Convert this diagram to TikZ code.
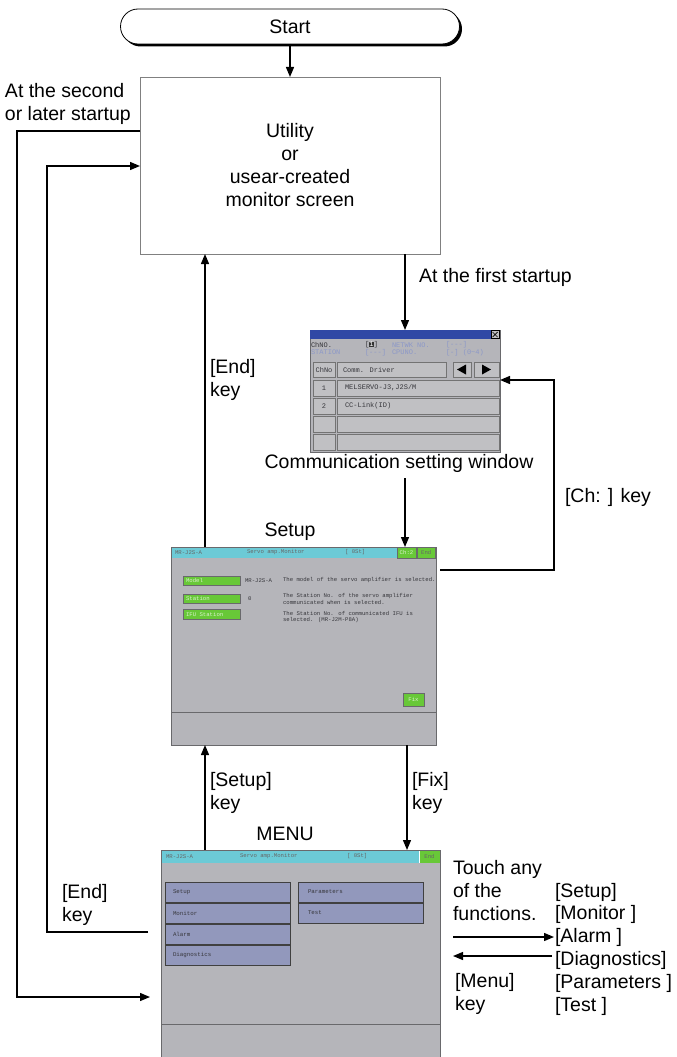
\documentclass[tikz,border=0pt]{standalone}
\usepackage{fontspec}
\setmainfont{Liberation Sans}
\newfontfamily\scrfont{Liberation Mono}
\usetikzlibrary{arrows.meta,shadows}

\definecolor{scrgray}{RGB}{181,181,186}
\definecolor{cellgray}{RGB}{192,192,195}
\definecolor{titlecyan}{RGB}{108,202,214}
\definecolor{btngreen}{RGB}{104,200,56}
\definecolor{btnlav}{RGB}{146,152,188}
\definecolor{barblue}{RGB}{48,72,165}
\definecolor{scrtext}{RGB}{55,55,60}
\definecolor{fadetext}{RGB}{140,152,200}
\definecolor{edgegray}{RGB}{105,105,108}

\begin{document}
\begin{tikzpicture}[x=1pt,y=-1pt,
  every node/.style={inner sep=0pt, outer sep=0pt},
  lbl/.style={font=\fontsize{19.5}{23}\selectfont, align=left},
  arr/.style={line width=1.3pt, -{Triangle[length=10pt,width=8pt]}},
  conn/.style={line width=1.3pt},
  screen/.style={draw=edgegray, fill=scrgray, line width=0.8pt},
  tiny/.style={font=\scrfont\fontsize{5.65}{6}\selectfont, text=scrtext, anchor=west},
  ctext/.style={font=\scrfont\fontsize{7}{8}\selectfont, text=scrtext, anchor=west},
  cfade/.style={font=\scrfont\fontsize{7}{8}\selectfont, text=fadetext, anchor=west},
  gbtn/.style={draw=edgegray, fill=btngreen, line width=0.6pt},
  lbtn/.style={draw=black!75, fill=btnlav, line width=0.6pt},
  cell/.style={draw=black!55, fill=cellgray, line width=0.6pt},
]
\useasboundingbox (0,0) rectangle (677,1057);

% ---------- Start ----------
\node[draw, fill=white, rounded corners=17.5pt, minimum width=339pt, minimum height=35pt,
      line width=0.8pt, drop shadow={shadow xshift=2.5pt, shadow yshift=-2.5pt, fill=black, opacity=1},
      font=\fontsize{19.5}{23}\selectfont] (start) at (290,26.5) {Start};

% ---------- Utility ----------
\node[draw=gray, line width=0.8pt, minimum width=300pt, minimum height=177pt,
      lbl, align=center] (util) at (290,165.5) {Utility\\or\\usear-created\\monitor screen};
\draw[arr] (start) -- (util);

\node[lbl, anchor=west] (second) at (5,103.5) {At the second\\or later startup};

% ---------- Communication setting window ----------
\node[screen, minimum width=190pt, minimum height=122pt] (comm) at (405,391) {};
\draw[arr] (util.south -| comm.north) -- (comm.north);
\node[lbl, anchor=west] (first) at (419,277) {At the first startup};

\fill[barblue] (310,330) rectangle (500,339);
\draw[fill=cellgray, line width=0.5pt] (491,330.5) rectangle (499,338.5);
\draw[line width=0.7pt] (492.5,332) -- (497.5,337) (497.5,332) -- (492.5,337);
\node[ctext] at (311,345) {ChNO.};
\node[ctext] at (365,345) {[\fboxsep=0.2pt\colorbox{black!80}{\textcolor{white}{1}}]};
\node[cfade] at (392,345) {NETWK NO.};
\node[cfade] at (446,345) {[---]};
\node[cfade] at (311,352.5) {STATION};
\node[cfade] at (365,352.5) {[---]};
\node[cfade] at (392,352.5) {CPUNO.};
\node[cfade] at (446,352.5) {[-] (0\textasciitilde 4)};

\draw[cell] (313,362) rectangle (335,377);
\node[ctext, anchor=center] at (324,369.5) {ChNo};
\draw[cell] (337,362) rectangle (446,377);
\node[ctext] at (343,369.5) {Comm. Driver};
\draw[cell] (453,362) rectangle (471,377);
\fill (457,369.5) -- (466,364.5) -- (466,374.5) -- cycle;
\draw[cell] (474,362) rectangle (499,377);
\fill (491,369.5) -- (482,364.5) -- (482,374.5) -- cycle;
\foreach \ya/\yb/\n/\t in {380/396/1/{MELSERVO-J3,J2S/M}, 398/414/2/{CC-Link(ID)}, 416/432//{}, 434/450//{}}{
  \draw[cell] (313,\ya) rectangle (335,\yb);
  \draw[cell] (337,\ya) rectangle (499,\yb);
  \node[ctext, anchor=center] at (324,{(\ya+\yb)/2}) {\n};
  \node[ctext] at (345,{(\ya+\yb)/2}) {\t};
}
\node[lbl] (commlbl) at (399,463) {Communication setting window};

% ---------- Setup screen ----------
\node[screen, minimum width=265pt, minimum height=198pt] (setup) at (303.5,646) {};
\node[lbl] (setuplbl) at (290,532) {Setup};
\coordinate (c2) at ([yshift=-6pt]commlbl.south);
\draw[arr] (c2 -| comm.south) -- (setup.north -| comm.south);

\fill[titlecyan] (171,547) rectangle (436,558);
\draw[gbtn] (397,547.5) rectangle (416,558);
\draw[gbtn] (417,547.5) rectangle (435.5,558);
\node[tiny, text=black!60] at (175,552.5) {MR-J2S-A};
\node[tiny, text=black!60] at (247,552.5) {Servo amp.Monitor};
\node[tiny, text=black!60] at (345,552.5) {[ 0St]};
\node[tiny, anchor=center, text=white!75!btngreen] at (406.5,552.8) {Ch:2};
\node[tiny, anchor=center, text=black!60] at (426.2,552.8) {End};

\draw[gbtn] (183,576) rectangle (240,585);
\draw[gbtn] (183,594) rectangle (240,603);
\draw[gbtn] (183,609.5) rectangle (240,619);
\node[tiny, text=white!75!btngreen] at (186,580.5) {Model};
\node[tiny, text=white!75!btngreen] at (186,598.5) {Station};
\node[tiny, text=white!75!btngreen] at (186,614.2) {IFU Station};
\node[tiny] at (245,580.5) {MR-J2S-A};
\node[tiny] at (248,598.5) {0};
\node[tiny] at (283,580.5) {The model of the servo amplifier is selected.};
\node[tiny] at (283,596.5) {The Station No. of the servo amplifier};
\node[tiny] at (283,602.8) {communicated when is selected.};
\node[tiny] at (283,613.5) {The Station No. of communicated IFU is};
\node[tiny] at (283,619.8) {selected. (MR-J2M-P8A)};
\draw[gbtn] (403,693) rectangle (424,706);
\node[tiny, anchor=center, text=white!75!btngreen] at (413.5,699.5) {Fix};
\draw[edgegray, line width=0.8pt] (171,712) -- (436,712);
\draw[edgegray, line width=0.8pt] (setup.north west) rectangle (setup.south east);

% Ch loop
\coordinate (chc) at (554,380);
\draw[arr] ([xshift=4pt,yshift=-23pt]setup.north east) -| (chc) -- (chc -| comm.east);
\node[lbl, anchor=west] (chkey) at (565,497) {[Ch: ] key};

% End key from setup to utility
\coordinate (xl) at (205,0);
\draw[arr] (setup.north -| xl) -- (util.south -| xl);
\node[lbl, anchor=west] (endkey) at (210,380) {[End]\\key};

% ---------- MENU screen ----------
\node[screen, minimum width=279pt, minimum height=212pt] (menu) at (300.5,956) {};
\node[lbl] (menulbl) at (285,834) {MENU};
\coordinate (xf) at (407,0);
\draw[arr] (menu.north -| xl) -- (setup.south -| xl);
\draw[arr] (setup.south -| xf) -- (menu.north -| xf);
\node[lbl, anchor=west] (setupkey) at (210,793) {[Setup]\\key};
\node[lbl, anchor=west] (fixkey) at (412,793) {[Fix]\\key};

\fill[titlecyan] (161,850) rectangle (440,863);
\fill[btngreen] (419,850) rectangle (440,863);
\draw[white, line width=0.8pt] (419,850) -- (419,863);
\node[tiny, text=black!60] at (166,856.5) {MR-J2S-A};
\node[tiny, text=black!60] at (240,856.5) {Servo amp.Monitor};
\node[tiny, text=black!60] at (347,856.5) {[ 0St]};
\node[tiny, anchor=center, text=black!60] at (429.5,856.8) {End};
\foreach \ya/\t in {882/Setup, 903/Monitor, 924/Alarm, 945/Diagnostics}{
  \draw[lbtn] (165,\ya) rectangle (290,\ya+20);
  \node[tiny, font=\scrfont\fontsize{5.8}{6}\selectfont] at (173,\ya+10) {\t};
}
\foreach \ya/\t in {882/Parameters, 903/Test}{
  \draw[lbtn] (298,\ya) rectangle (423,\ya+20);
  \node[tiny, font=\scrfont\fontsize{5.8}{6}\selectfont] at (308,\ya+10) {\t};
}
\draw[edgegray, line width=0.8pt] (161,1024) -- (440,1024);
\draw[edgegray, line width=0.8pt] (menu.south west) -- (menu.north west) -- (menu.north east) -- (menu.south east);

% ---------- Left loops ----------
\coordinate (la) at (17,997);
\coordinate (laend) at (150,997);
\draw[arr] ([yshift=-54pt]util.north west) -| (la) -- (laend);
\coordinate (lbstart) at (148,932);
\coordinate (lb) at (47,932);
\draw[arr] (lbstart) -- (lb) |- ([yshift=-89pt]util.north west);
\node[lbl, anchor=west] (endkeyL) at (62,905) {[End]\\key};

% ---------- Right side ----------
\node[lbl, anchor=west] (touch) at (453,890.5) {Touch any\\of the\\functions.};
\node[lbl, anchor=west] (fk1) at (555,892) {[Setup]};
\node[lbl, anchor=west] (fk2) at (555,914) {[Monitor ]};
\node[lbl, anchor=west] (fk3) at (555,937) {[Alarm ]};
\node[lbl, anchor=west] (fk4) at (555,960) {[Diagnostics]};
\node[lbl, anchor=west] (fk5) at (555,983) {[Parameters ]};
\node[lbl, anchor=west] (fk6) at (555,1006) {[Test ]};
\draw[arr] (touch.west |- fk3.west) -- ([xshift=-1pt]fk3.west);
\coordinate (ml) at ([yshift=4pt,xshift=-3pt]fk4.west);
\draw[arr] (ml) -- (ml -| touch.west);
\node[lbl, anchor=west] (menukey) at (455,993.5) {[Menu]\\key};
\end{tikzpicture}
\end{document}
